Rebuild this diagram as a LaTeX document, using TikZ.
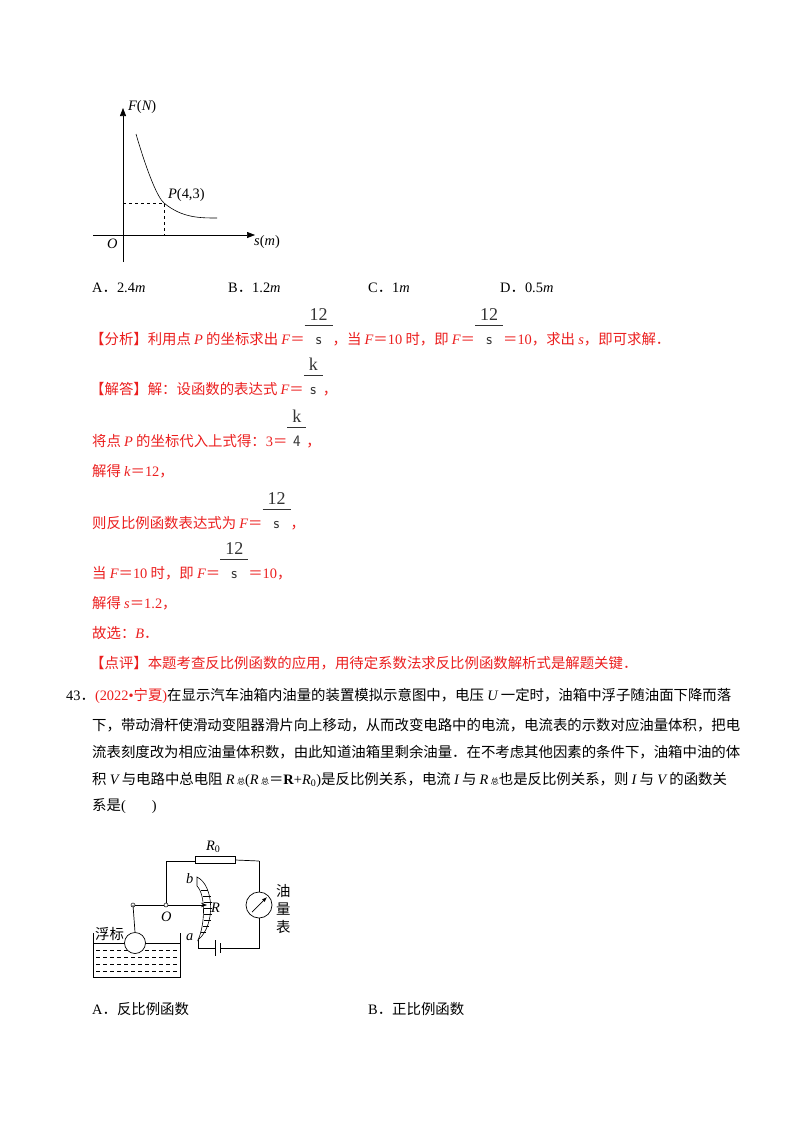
\documentclass[tikz,border=0pt]{standalone}
\usepackage{fontspec}
\setmainfont{Noto Sans CJK SC}
\newfontfamily\tn{Liberation Serif}
\usetikzlibrary{arrows.meta,calc}
\definecolor{rd}{RGB}{235,30,30}
\newcommand{\mm}[1]{{\tn #1}}
\newcommand{\mi}[1]{{\tn\itshape #1}}
\newcommand{\fr}[2]{{\color{black!80}\begin{tabular}[b]{@{\hspace{5pt}}c@{\hspace{5pt}}}\rule{0pt}{16pt}{\tn\fontsize{18}{18}\selectfont #1}\\[-1pt]\hline\rule{0pt}{19pt}{\sffamily\fontsize{16}{16}\selectfont #2}\end{tabular}}}
\tikzset{txt/.style={anchor=base west,inner sep=0,font=\fontsize{14.4}{16}\selectfont},
 red/.style={txt,text=rd},
 ln/.style={line width=0.7pt}}
\begin{document}
\begin{tikzpicture}[x=1pt,y=-1pt]
\useasboundingbox (0,0) rectangle (800,1132);
% graph
\draw[ln,-{Triangle[length=8pt,width=6pt]}] (123,262) -- (123,108);
\draw[ln,-{Triangle[length=8pt,width=6pt]}] (93,235) -- (255,235);
\draw[line width=0.6pt] (136,134) .. controls (148,175) and (158,198) .. (164,203) .. controls (182,218) and (200,218) .. (217,218);
\draw[dashed,line width=0.5pt] (123,203) -- (164,203) -- (164,235);
\node[txt] (fl) at (128,110) {\mi{F}\mm{(}\mi{N}\mm{)}};
\node[txt] (sl) at (254,245) {\mi{s}\mm{(}\mi{m}\mm{)}};
\node[txt] (ol) at (107,248) {\mi{O}};
\node[txt] (pl) at (168,198) {\mi{P}\mm{(4,3)}};
% options
\node[txt] (oa) at (92,292) {\mm{A}．\mm{2.4}\mi{m}};
\node[txt] (ob) at (228,292) {\mm{B}．\mm{1.2}\mi{m}};
\node[txt] (oc) at (368,292) {\mm{C}．\mm{1}\mi{m}};
\node[txt] (od) at (500,292) {\mm{D}．\mm{0.5}\mi{m}};
% solution
\node[red] (l1) at (90,344) {【分析】利用点 \mi{P} 的坐标求出 \mi{F}＝\fr{12}{s}，当 \mi{F}＝\mm{10} 时，即 \mi{F}＝\fr{12}{s}＝\mm{10}，求出 \mi{s}，即可求解．};
\node[red] (l2) at (90,394) {【解答】解：设函数的表达式 \mi{F}＝\fr{k}{s}，};
\node[red] (l3) at (92,446) {将点 \mi{P} 的坐标代入上式得：\mm{3}＝\fr{k}{4}，};
\node[red] (l4) at (92,476) {解得 \mi{k}＝\mm{12}，};
\node[red] (l5) at (92,528) {则反比例函数表达式为 \mi{F}＝\fr{12}{s}，};
\node[red] (l6) at (92,578) {当 \mi{F}＝\mm{10} 时，即 \mi{F}＝\fr{12}{s}＝\mm{10}，};
\node[red] (l7) at (92,608) {解得 \mi{s}＝\mm{1.2}，};
\node[red] (l8) at (92,638) {故选：\mi{B}．};
\node[red] (l9) at (90,668) {【点评】本题考查反比例函数的应用，用待定系数法求反比例函数解析式是解题关键．};
% problem 43
\node[txt] (q1) at (66,700) {\mm{43}．\textcolor{rd}{\mm{(2022•}宁夏\mm{)}}在显示汽车油箱内油量的装置模拟示意图中，电压 \mi{U} 一定时，油箱中浮子随油面下降而落};
\node[txt] (q2) at (92,730) {下，带动滑杆使滑动变阻器滑片向上移动，从而改变电路中的电流，电流表的示数对应油量体积，把电};
\node[txt] (q3) at (92,757) {流表刻度改为相应油量体积数，由此知道油箱里剩余油量．在不考虑其他因素的条件下，油箱中油的体};
\node[txt] (q4) at (92,784) {积 \mi{V} 与电路中总电阻 \mi{R}\,{\fontsize{8}{9}\selectfont 总}\mm{(}\mi{R}\,{\fontsize{8}{9}\selectfont 总}＝\mm{\textbf{R}+}\mi{R}\mm{\textsubscript{0})}是反比例关系，电流 \mi{I} 与 \mi{R}\,{\fontsize{8}{9}\selectfont 总}也是反比例关系，则 \mi{I} 与 \mi{V} 的函数关};
\node[txt] (q5) at (92,810) {系是\mm{(\hspace{26pt})}};
% circuit
\coordinate (tl) at (166,861);
\coordinate (tr) at (259,861);
\coordinate (Op) at (166,905);
\coordinate (pv) at (133,905);
\draw[ln] (Op) -- (tl) -- (195,861);
\node[draw,line width=0.6pt,minimum width=40pt,minimum height=7pt,inner sep=0] (r0) at (215,860) {};
\draw[ln] (r0.east) -- (tr);
\node[circle,draw,line width=0.7pt,minimum size=26pt,inner sep=0] (mt) at (259,905) {};
\draw[ln] (tr) -- (mt.north);
\draw[ln,-{Latex[length=5pt]}] ($(mt.center)+(-7,7)$) -- ($(mt.center)+(8,-8)$);
\coordinate (br) at (259,948);
\draw[ln] (mt.south) -- (br) -- (220,948);
\draw[ln] (220,943) -- (220,953);
\draw[line width=1pt] (215,940) -- (215,956);
\draw[ln] (215,948) -- (198,948) -- (198,940);
% curved resistor (crescent band)
\draw[line width=0.6pt] (197,877) .. controls (214,885) and (216,925) .. (198,940)
  .. controls (205,925) and (206,895) .. (197,886) -- cycle;
\foreach \yy/\xa/\xb in {890/201/208,896/203/211,902/204/212,908/204/212,914/204/212,920/204/211,926/203/209,932/201/206}{\draw[line width=0.4pt] (\xa,\yy) -- (\xb,\yy);}
% rod
\draw[ln] (pv) -- (Op);
\draw[ln,-{Stealth[length=6pt]}] (Op) -- (207,905);
\draw[fill=white,line width=0.5pt] (pv) circle (2pt);
\draw[fill=white,line width=0.5pt] (Op) circle (2pt);
\node[txt] (Rl) at (211,912) {\mi{R}};
\node[txt] (R0l) at (206,850) {\mi{R}\mm{\textsubscript{0}}};
\node[txt] (bl) at (186,883) {\mi{b}};
\node[txt] (al) at (186,940) {\mi{a}};
\node[txt] (Ol) at (161,921) {\mi{O}};
% tank
\draw[ln] (93,933) -- (93,977) -- (180,977) -- (180,933);
\draw[ln] (93,943) -- (125,943);
\draw[ln] (145,943) -- (180,943);
\foreach \yy in {950,957,964,971}{\draw[line width=0.6pt,dash pattern=on 4pt off 3pt] (96,\yy) -- (178,\yy);}
\node[circle,draw,fill=white,line width=0.7pt,minimum size=21pt,inner sep=0] (ball) at (135,943) {};
\draw[ln] (pv) -- (ball.north);
\node[txt] (fb) at (95,939) {浮标};
\node[txt] (y1) at (276,896) {油};
\node[txt] (y2) at (276,914) {量};
\node[txt] (y3) at (276,932) {表};
% answers
\node[txt] (aa) at (92,1014) {\mm{A}．反比例函数};
\node[txt] (ab) at (368,1014) {\mm{B}．正比例函数};
\end{tikzpicture}
\end{document}
